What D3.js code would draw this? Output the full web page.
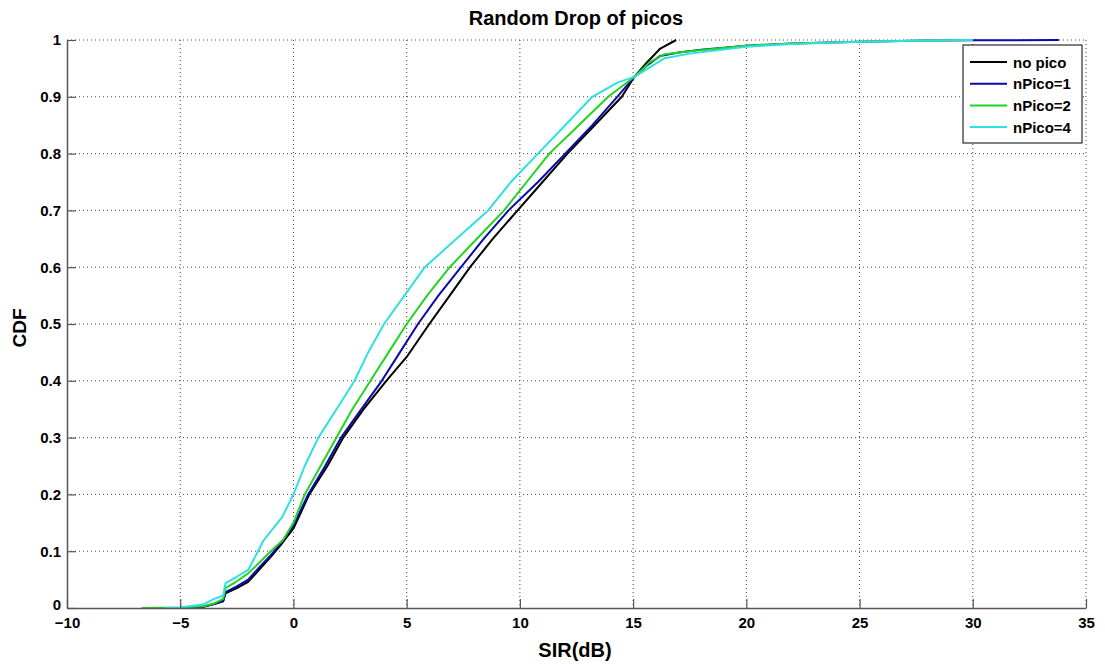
<!DOCTYPE html>
<html><head><meta charset="utf-8">
<script src="https://cdn.jsdelivr.net/npm/d3@7/dist/d3.min.js"></script>
<style>body{margin:0;background:#fff;}svg{display:block;}</style>
</head><body>
<svg id="c" width="1105" height="668"></svg>
<script>
const title = "Random Drop of picos";
const xLabel = "SIR(dB)";
const yLabel = "CDF";
const xTicks = [-10,-5,0,5,10,15,20,25,30,35];
const yTicks = [0,0.1,0.2,0.3,0.4,0.5,0.6,0.7,0.8,0.9,1];
const seriesNames = ["no pico","nPico=1","nPico=2","nPico=4"];
const seriesColors = ["#000000","#0a0aa8","#22d422","#2ee0e0"];

const noPico = [[-4.8,0],[-4,0.002],[-3.5,0.007],[-3.1,0.012],[-3,0.026],[-2.5,0.035],[-2,0.046],[-1.5,0.068],[-1,0.09],[-0.5,0.114],[0,0.14],[0.7,0.2],[1.5,0.25],[2.2,0.3],[3.1,0.35],[4.1,0.4],[5,0.442],[6,0.5],[6.9,0.55],[7.8,0.6],[8.8,0.65],[9.9,0.7],[11,0.75],[12.1,0.8],[13.3,0.85],[14.5,0.9],[15.05,0.935],[15.6,0.96],[16.2,0.985],[16.9,1.0]];
const nPico1 = [[-4.8,0],[-4,0.002],[-3.5,0.007],[-3.1,0.013],[-3,0.028],[-2.5,0.038],[-2,0.05],[-1.5,0.072],[-1,0.093],[-0.5,0.117],[0,0.145],[0.65,0.2],[1.4,0.25],[2.1,0.3],[3,0.35],[3.9,0.4],[4.7,0.45],[5.5,0.5],[6.4,0.55],[7.4,0.6],[8.4,0.65],[9.5,0.7],[10.8,0.75],[12,0.8],[13.2,0.85],[14.3,0.9],[15.05,0.935],[15.6,0.955],[16.2,0.972],[17,0.978],[18,0.983],[20,0.99],[22,0.994],[25,0.997],[28,0.999],[30,0.9995],[33.8,1.0]];
const nPico2 = [[-6.7,0],[-5,0.001],[-4,0.003],[-3.5,0.008],[-3.1,0.016],[-3,0.035],[-2.5,0.047],[-2,0.061],[-1.5,0.08],[-1,0.1],[-0.45,0.12],[0,0.15],[0.5,0.2],[1.2,0.25],[1.9,0.3],[2.6,0.35],[3.4,0.4],[4.2,0.45],[5,0.5],[5.9,0.55],[6.9,0.6],[8.1,0.65],[9.3,0.7],[10.3,0.75],[11.3,0.8],[12.6,0.85],[13.9,0.9],[15.05,0.935],[15.7,0.96],[16.4,0.975],[17.5,0.98],[20,0.99],[22,0.994],[25,0.997],[28,0.999],[30,1.0]];
const nPico4 = [[-5.7,0],[-5,0.001],[-4,0.006],[-3.5,0.016],[-3.1,0.022],[-3,0.044],[-2.5,0.055],[-2,0.067],[-1.3,0.12],[-0.5,0.16],[0,0.2],[0.5,0.25],[1.1,0.3],[1.9,0.35],[2.7,0.4],[3.3,0.45],[4,0.5],[4.9,0.55],[5.8,0.6],[7.2,0.65],[8.6,0.7],[9.6,0.75],[10.8,0.8],[12,0.85],[13.2,0.9],[14.3,0.925],[15.05,0.935],[16.4,0.968],[17.5,0.976],[20,0.988],[22,0.993],[25,0.997],[28,0.999],[30,1.0]];
const seriesData = [noPico, nPico1, nPico2, nPico4];

const svg = d3.select("#c");
const L = 67, R = 1086, T = 40, B = 608;
const x = d3.scaleLinear().domain([-10,35]).range([L,R]);
const y = d3.scaleLinear().domain([0,1]).range([B,T]);
const font = "'Liberation Sans', Arial, Helvetica, sans-serif";

// grid
const grid = svg.append("g");
grid.selectAll("line.gx").data(xTicks.slice(1)).enter().append("line")
  .attr("x1", d=>x(d)).attr("x2", d=>x(d)).attr("y1", T).attr("y2", B)
  .attr("stroke","#444").attr("stroke-width",1).attr("stroke-dasharray","1,3");
grid.selectAll("line.gy").data(yTicks.slice(1)).enter().append("line")
  .attr("x1", L).attr("x2", R).attr("y1", d=>y(d)).attr("y2", d=>y(d))
  .attr("stroke","#444").attr("stroke-width",1).attr("stroke-dasharray","1,3");

// series
const line = d3.line().x(d=>x(d[0])).y(d=>y(d[1]));
seriesData.forEach((s,i)=>{
  svg.append("path").datum(s).attr("d", line).attr("fill","none")
    .attr("stroke", seriesColors[i]).attr("stroke-width", 2).attr("stroke-linejoin","round");
});

// axes
const xAxis = d3.axisBottom(x).tickValues(xTicks).tickSizeInner(-9).tickSizeOuter(0).tickPadding(14);
const gx = svg.append("g").attr("transform",`translate(0,${B})`).call(xAxis);
const yAxis = d3.axisLeft(y).tickValues(yTicks).tickFormat(d=>d===0?"0":d===1?"1":d3.format(".1f")(d)).tickSizeInner(-9).tickSizeOuter(0).tickPadding(6);
const gy = svg.append("g").attr("transform",`translate(${L},0)`).call(yAxis);
[gx,gy].forEach(g=>{
  g.select(".domain").attr("stroke","#555").attr("stroke-width",1.5);
  g.selectAll(".tick line").attr("stroke","#555").attr("stroke-width",1.2);
  g.selectAll(".tick text").attr("fill","#000").style("font-family",font).style("font-size","15px").style("font-weight","bold");
});
gx.selectAll(".tick text").attr("dy","0.4em");
gy.selectAll(".tick text").filter(d=>d===0).attr("dy","0.1em");

// labels
svg.append("text").attr("x",576).attr("y",25).attr("text-anchor","middle")
  .style("font-family",font).style("font-size","20px").style("font-weight","bold").text(title);
svg.append("text").attr("x",575).attr("y",657).attr("text-anchor","middle")
  .style("font-family",font).style("font-size","20px").style("font-weight","bold").text(xLabel);
svg.append("text").attr("transform","translate(26,328) rotate(-90)").attr("text-anchor","middle")
  .style("font-family",font).style("font-size","19px").style("font-weight","bold").text(yLabel);

// legend
const lg = svg.append("g");
lg.append("rect").attr("x",963).attr("y",45).attr("width",119).attr("height",98)
  .attr("fill","#fff").attr("stroke","#000").attr("stroke-width",1);
seriesNames.forEach((n,i)=>{
  const yy = 62 + i*21.7;
  lg.append("line").attr("x1",970).attr("x2",1007).attr("y1",yy).attr("y2",yy)
    .attr("stroke",seriesColors[i]).attr("stroke-width",2);
  lg.append("text").attr("x",1013).attr("y",yy+5.5).style("font-family",font)
    .style("font-size","15px").style("font-weight","bold").text(n);
});
</script>
</body></html>
